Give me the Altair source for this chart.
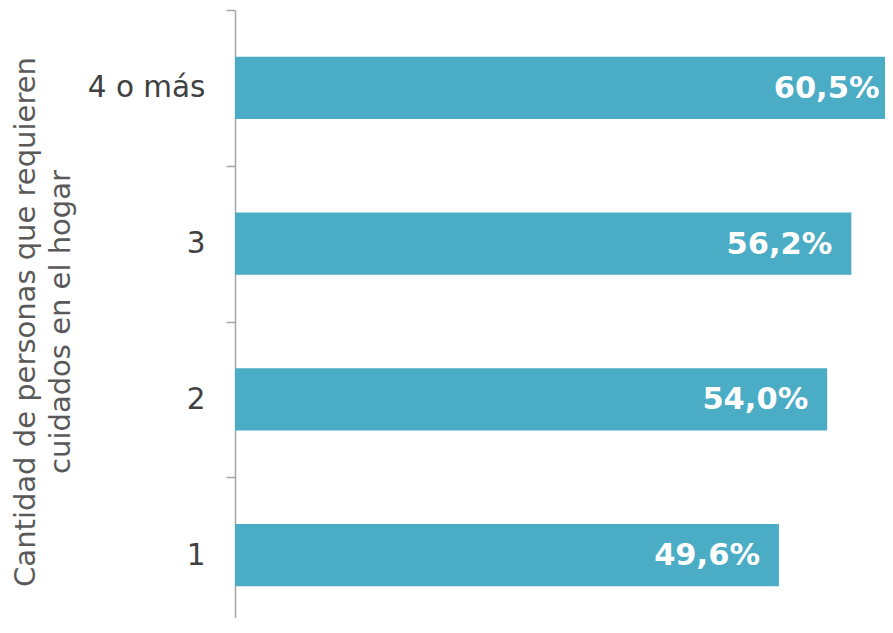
import altair as alt
import pandas as pd

categories = ["4 o más", "3", "2", "1"]
values = [60.5, 56.2, 54.0, 49.6]
labels = [f"{v:.1f}%".replace(".", ",") for v in values]

df = pd.DataFrame({"cat": categories, "val": values, "lab": labels})

FONT = "DejaVu Sans"

y = alt.Y(
    "cat:N",
    sort=categories,
    scale=alt.Scale(paddingInner=0, paddingOuter=0, range=[0, 623]),
    axis=alt.Axis(
        title=["Cantidad de personas que requieren", "cuidados en el hogar"],
        titleFont=FONT,
        titleFontSize=29,
        titleFontWeight="normal",
        titleColor="#595959",
        titleLineHeight=35,
        titlePadding=12,
        labelFont=FONT,
        labelFontSize=29.5,
        labelColor="#404040",
        labelPadding=21,
        tickBand="extent",
        tickSize=9,
        tickColor="#A6A6A6",
        tickWidth=1.5,
        domainColor="#A6A6A6",
        domainWidth=1.5,
        grid=False,
    ),
)

x = alt.X("val:Q", scale=alt.Scale(domain=[0, 60], nice=False, range=[0, 658]), axis=None)

bars = alt.Chart(df).mark_bar(
    color="#4BACC6", clip=True, height=alt.RelativeBandSize(0.4)
).encode(x=x, y=y)
text = alt.Chart(df).mark_text(
    align="right", baseline="middle", dx=-19, dy=1, color="white",
    font=FONT, fontSize=30.5, fontWeight="bold"
).encode(x=x, y=y, text="lab:N")

chart = (
    alt.layer(bars, text)
    .properties(width=650, height=608,
                autosize=alt.AutoSizeParams(type="none"),
                padding={"left": 227, "top": 2, "right": 0, "bottom": 0})
    .configure_view(stroke=None)
)

chart.save("out.html", embed_options={"renderer": "svg", "actions": False})
